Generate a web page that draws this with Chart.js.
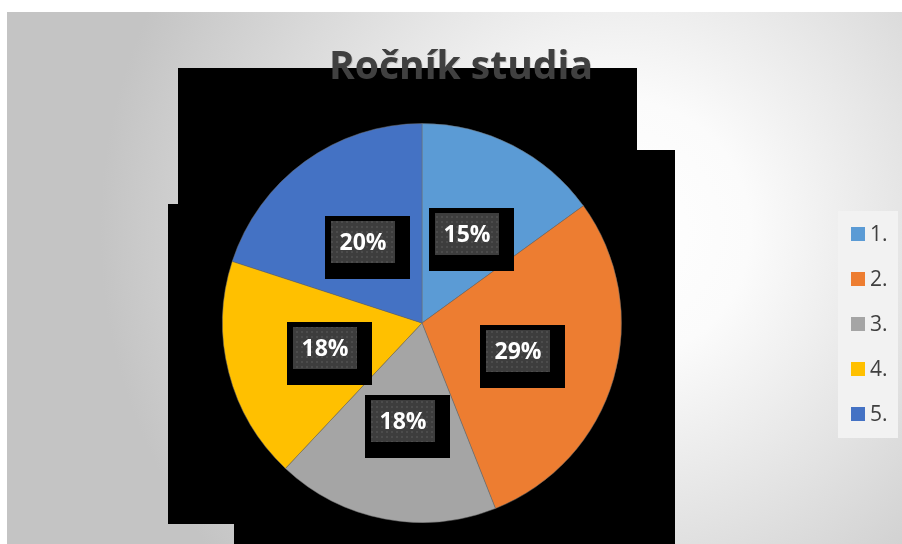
<!DOCTYPE html>
<html>
<head>
<meta charset="utf-8">
<title>Ročník studia</title>
<script src="https://cdn.jsdelivr.net/npm/chart.js@4.4.1/dist/chart.umd.min.js"></script>
<style>
  html, body { margin: 0; padding: 0; background: #fff; }
  #pieChart { display: block; }
</style>
</head>
<body>
<canvas id="pieChart" width="902" height="544"></canvas>
<script>
  const chartTitle = 'Ročník studia';
  const yearLabels = ['1.', '2.', '3.', '4.', '5.'];
  const yearShares = [15, 29, 18, 18, 20];
  const sliceColors = ['#5b9bd5', '#ed7d31', '#a5a5a5', '#ffc000', '#4472c4'];

  const FONT = "'Open Sans', 'Noto Sans', sans-serif";

  // dark panels sitting behind the pie
  const backdropRects = [
    [178, 68, 637, 204],
    [637, 150, 675, 544],
    [168, 204, 675, 524],
    [234, 204, 675, 544]
  ];

  function makeDotPattern(ctx) {
    const tile = document.createElement('canvas');
    tile.width = 5;
    tile.height = 5;
    const t = tile.getContext('2d');
    t.fillStyle = '#3d3d3d';
    t.fillRect(0, 0, 5, 5);
    t.fillStyle = '#4c4c4c';
    t.fillRect(1, 1, 2, 2);
    return ctx.createPattern(tile, 'repeat');
  }

  const backgroundPlugin = {
    id: 'background',
    beforeDraw(chart) {
      const ctx = chart.ctx;
      ctx.save();
      ctx.fillStyle = '#ffffff';
      ctx.fillRect(0, 0, chart.width, chart.height);

      const grad = ctx.createRadialGradient(620, 230, 0, 620, 230, 520);
      grad.addColorStop(0, '#ffffff');
      grad.addColorStop(0.25, '#fbfbfb');
      grad.addColorStop(1, '#c4c4c4');
      ctx.fillStyle = grad;
      ctx.fillRect(7, 12, chart.width - 7, chart.height - 12);

      ctx.fillStyle = '#000000';
      backdropRects.forEach(function (r) {
        ctx.fillRect(r[0], r[1], r[2] - r[0], r[3] - r[1]);
      });
      ctx.restore();
    }
  };

  const sliceLabelPlugin = {
    id: 'sliceLabels',
    afterDatasetsDraw(chart) {
      const ctx = chart.ctx;
      const meta = chart.getDatasetMeta(0);
      const values = chart.data.datasets[0].data;
      const total = values.reduce(function (a, b) { return a + b; }, 0);
      const pattern = makeDotPattern(ctx);
      const boxW = 64, boxH = 42;

      ctx.save();
      meta.data.forEach(function (arc, i) {
        const pos = arc.tooltipPosition();
        const x = Math.round(pos.x - boxW / 2);
        const y = Math.round(pos.y - boxH / 2);

        ctx.fillStyle = '#000000';
        ctx.fillRect(x - 6, y - 5, boxW + 21, boxH + 21);
        ctx.fillStyle = pattern;
        ctx.fillRect(x, y, boxW, boxH);

        ctx.fillStyle = '#ffffff';
        ctx.font = 'bold 23px ' + FONT;
        ctx.textAlign = 'center';
        ctx.textBaseline = 'middle';
        const pct = Math.round(values[i] / total * 100) + '%';
        ctx.fillText(pct, x + boxW / 2, y + boxH / 2 + 1);
      });
      ctx.restore();
    }
  };

  const titleLegendPlugin = {
    id: 'titleLegend',
    afterDraw(chart) {
      const ctx = chart.ctx;
      ctx.save();

      ctx.font = 'bold 39px ' + FONT;
      ctx.textAlign = 'center';
      ctx.textBaseline = 'alphabetic';
      ctx.fillStyle = 'rgba(0, 0, 0, 0.15)';
      ctx.fillText(chartTitle, 462, 80);
      ctx.fillStyle = '#404040';
      ctx.fillText(chartTitle, 461, 79);

      // legend panel on the right
      const lx = 838, ly = 211, lw = 60, lh = 227;
      ctx.fillStyle = '#f2f2f2';
      ctx.fillRect(lx, ly, lw, lh);

      const colors = chart.data.datasets[0].backgroundColor;
      ctx.font = '21px ' + FONT;
      ctx.textAlign = 'left';
      ctx.textBaseline = 'middle';
      chart.data.labels.forEach(function (label, i) {
        const cy = 234 + i * 45;
        ctx.fillStyle = colors[i];
        ctx.fillRect(851, cy - 7, 14, 14);
        ctx.fillStyle = '#404040';
        ctx.fillText(label, 870, cy + 1);
      });
      ctx.restore();
    }
  };

  const pieCtx = document.getElementById('pieChart').getContext('2d');

  const pieChart = new Chart(pieCtx, {
    type: 'pie',
    data: {
      labels: yearLabels,
      datasets: [{
        data: yearShares,
        backgroundColor: sliceColors,
        borderColor: 'rgba(110, 110, 110, 0.5)',
        borderWidth: 1
      }]
    },
    options: {
      responsive: false,
      animation: false,
      layout: {
        padding: { top: 123, bottom: 21, left: 222, right: 280 }
      },
      plugins: {
        legend: { display: false },
        title: { display: false },
        tooltip: { enabled: false }
      }
    },
    plugins: [backgroundPlugin, sliceLabelPlugin, titleLegendPlugin]
  });
</script>
</body>
</html>
